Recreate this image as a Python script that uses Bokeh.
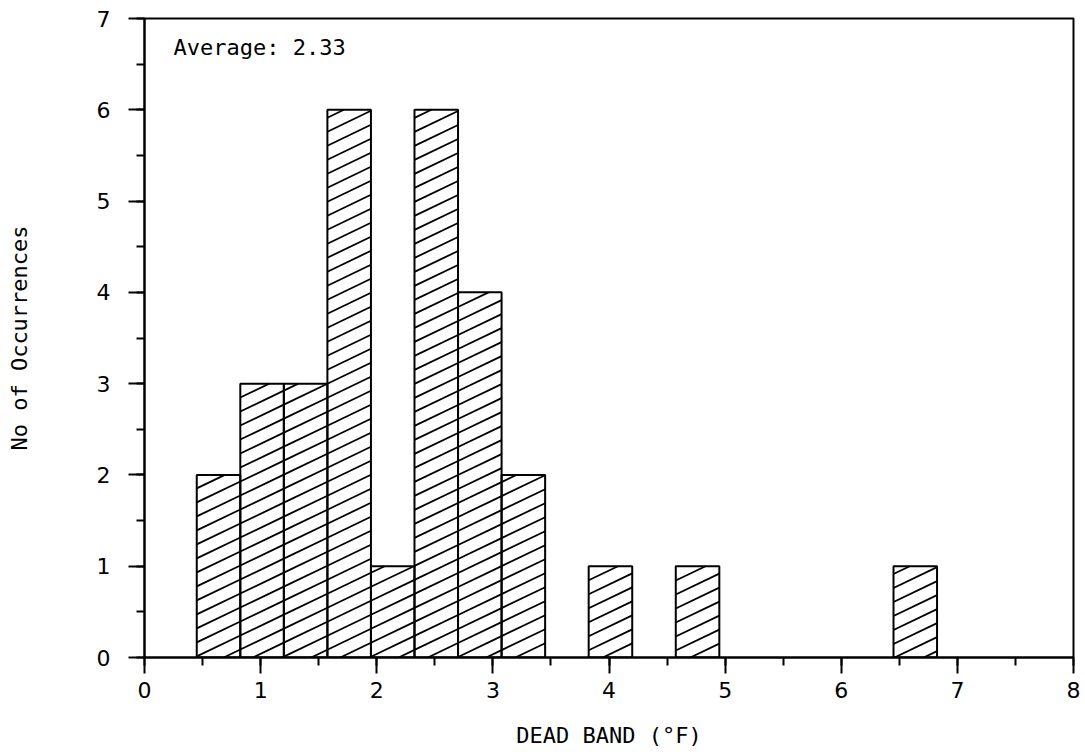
from bokeh.plotting import figure
from bokeh.models import Range1d, SingleIntervalTicker, ColumnDataSource
from bokeh.core.properties import value
from bokeh.embed import file_html
from bokeh.resources import INLINE

# Data (histogram of dead band)
bin_left = [0.45, 0.825, 1.2, 1.575, 1.95, 2.325, 2.7, 3.075, 3.825, 4.575, 6.45]
counts = [2, 3, 3, 6, 1, 6, 4, 2, 1, 1, 1]
bin_width = 0.375
average_label = "Average: 2.33"
x_title = "DEAD BAND (°F)"
y_title = "No of Occurrences"

X_MAX, Y_MAX = 8, 7
W, H = 1085, 755
BL, BR, BT, BB = 144, 12, 18, 98
FW, FH = W - BL - BR, H - BT - BB          # frame size in px
sx, sy = FW / X_MAX, FH / Y_MAX            # px per data unit

src = ColumnDataSource(dict(
    left=bin_left,
    right=[b + bin_width for b in bin_left],
    top=counts,
    bottom=[0] * len(counts),
))

# hatch lines (rising to the right, shallow angle) clipped to every bar
SLOPE, GAP = 0.48, 14.0   # px
hx0, hy0, hx1, hy1 = [], [], [], []
for left, cnt in zip(bin_left, counts):
    x0, x1 = left * sx, (left + bin_width) * sx
    y0, y1 = 0.0, cnt * sy
    kmin = int((y0 - SLOPE * x1) // GAP) - 1
    kmax = int((y1 - SLOPE * x0) // GAP) + 1
    for k in range(kmin, kmax + 1):
        c = k * GAP + 4
        xa = max(x0, (y0 - c) / SLOPE)
        xb = min(x1, (y1 - c) / SLOPE)
        if xb - xa > 0.5:
            hx0.append(xa / sx); hy0.append((SLOPE * xa + c) / sy)
            hx1.append(xb / sx); hy1.append((SLOPE * xb + c) / sy)

FONT = "DejaVu Sans"
MONO = "DejaVu Sans Mono"

p = figure(width=W, height=H, output_backend="svg", toolbar_location=None,
           x_range=Range1d(0, X_MAX), y_range=Range1d(0, Y_MAX),
           min_border_left=BL, min_border_right=BR, min_border_top=BT, min_border_bottom=BB)
p.background_fill_color = "white"
p.border_fill_color = "white"
p.outline_line_color = "black"
p.outline_line_width = 2
p.xgrid.visible = False
p.ygrid.visible = False

p.segment(x0=hx0, y0=hy0, x1=hx1, y1=hy1, line_color="black", line_width=1.8)
p.quad(left="left", right="right", top="top", bottom="bottom", source=src,
       fill_color=None, line_color="black", line_width=2)

p.text(x=[0.25], y=[6.68], text=[average_label], text_font=value(MONO),
       text_font_size="22px", text_baseline="middle", text_align="left", text_color="black")

for ax in (p.xaxis[0], p.yaxis[0]):
    ax.ticker = SingleIntervalTicker(interval=1, num_minor_ticks=2)
    ax.axis_line_color = "black"
    ax.axis_line_width = 2
    ax.major_tick_line_color = "black"
    ax.major_tick_line_width = 2
    ax.minor_tick_line_color = "black"
    ax.minor_tick_line_width = 2
    ax.major_tick_in = 0
    ax.major_tick_out = 16
    ax.minor_tick_in = 0
    ax.minor_tick_out = 8
    ax.major_label_text_font = FONT
    ax.major_label_text_font_size = "22px"
    ax.major_label_text_color = "black"
    ax.axis_label_text_font = MONO
    ax.axis_label_text_font_size = "22px"
    ax.axis_label_text_font_style = "normal"
    ax.axis_label_text_color = "black"

p.xaxis.axis_label = x_title
p.yaxis.axis_label = y_title
p.xaxis.major_label_standoff = 8
p.xaxis.axis_label_standoff = 22
p.yaxis.major_label_standoff = 18
p.yaxis.axis_label_standoff = 62

open("out.html", "w").write(file_html(p, INLINE))
